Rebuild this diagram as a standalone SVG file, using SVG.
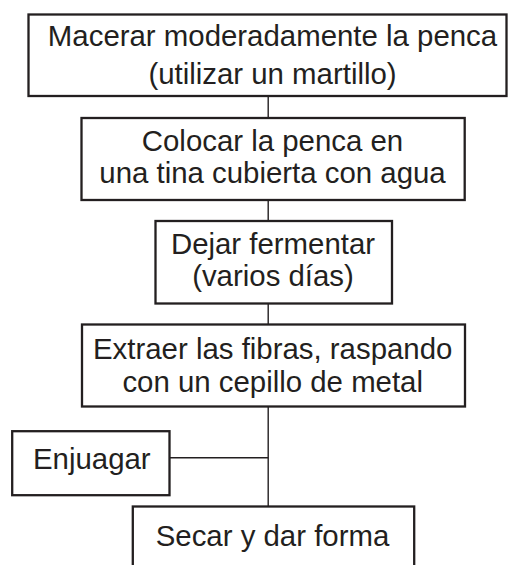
<svg xmlns="http://www.w3.org/2000/svg" width="508" height="565" viewBox="0 0 508 565">
<style>
.box{fill:#fff;stroke:#231f20;stroke-width:2.3}
.lbl{font-family:"Liberation Sans",Arial,Helvetica,sans-serif;font-size:29.4px;fill:#231f20;text-anchor:middle}
.conn{stroke:#231f20;stroke-width:1.4;fill:none}
</style>
<rect width="508" height="565" fill="#fff"/>
<g id="connectors">
<line class="conn" x1="268.2" y1="96" x2="268.2" y2="118"/>
<line class="conn" x1="268.2" y1="200" x2="268.2" y2="221"/>
<line class="conn" x1="268.2" y1="303.5" x2="268.2" y2="324.5"/>
<line class="conn" x1="268.2" y1="406.5" x2="268.2" y2="506.5"/>
<line class="conn" x1="169.5" y1="457.7" x2="268.2" y2="457.7"/>
</g>
<g id="n1">
<rect class="box" x="28.5" y="14.5" width="478" height="81.5"/>
<text class="lbl" x="272.5" y="46">Macerar moderadamente la penca</text>
<text class="lbl" x="272.5" y="84">(utilizar un martillo)</text>
</g>
<g id="n2">
<rect class="box" x="81.5" y="118" width="383.2" height="82"/>
<text class="lbl" x="272.5" y="150.5">Colocar la penca en</text>
<text class="lbl" x="272.5" y="183">una tina cubierta con agua</text>
</g>
<g id="n3">
<rect class="box" x="155.5" y="221" width="236.5" height="82.5"/>
<text class="lbl" x="273" y="254">Dejar fermentar</text>
<text class="lbl" x="273" y="286">(varios días)</text>
</g>
<g id="n4">
<rect class="box" x="82" y="324.5" width="383" height="82"/>
<text class="lbl" x="272.7" y="359.3">Extraer las fibras, raspando</text>
<text class="lbl" x="272.7" y="391.7">con un cepillo de metal</text>
</g>
<g id="n5">
<rect class="box" x="12.2" y="431.2" width="157.3" height="64"/>
<text class="lbl" x="91.8" y="469.3">Enjuagar</text>
</g>
<g id="n6">
<rect class="box" x="132.8" y="506.5" width="281.4" height="70"/>
<text class="lbl" x="272.5" y="546">Secar y dar forma</text>
</g>
</svg>
